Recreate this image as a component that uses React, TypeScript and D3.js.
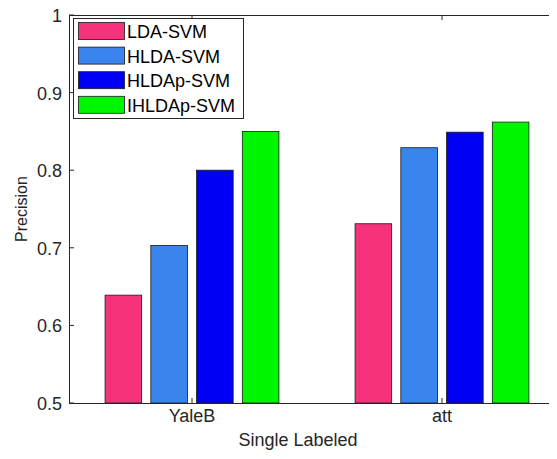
import React, { useEffect, useRef } from 'react';
import * as d3 from 'd3';

const categories = ['YaleB', 'att'];
const series = ['LDA-SVM', 'HLDA-SVM', 'HLDAp-SVM', 'IHLDAp-SVM'];
const colors = ['#f5327a', '#3a84ee', '#0000f5', '#00f500'];
// values[category][series]
const values = [
  [0.639, 0.703, 0.8, 0.85],
  [0.731, 0.829, 0.849, 0.862],
];
const yTicks = [0.5, 0.6, 0.7, 0.8, 0.9, 1];

export default function App() {
  const svgRef = useRef<SVGSVGElement>(null);

  useEffect(() => {
    const width = 557;
    const height = 459;
    const svg = d3.select(svgRef.current).attr('width', width).attr('height', height);
    svg.selectAll('*').remove();

    const left = 69;
    const top = 15;
    const bottom = 403;
    const font = 'Arial, "Liberation Sans", Helvetica, sans-serif';
    const axisColor = '#262626';

    // category 1 -> 192px, 2 -> 442px; the axes run past the right edge (cropped)
    const x = d3.scaleLinear().domain([1, 2]).range([192, 442]);
    const y = d3.scaleLinear().domain([0.5, 1]).range([bottom, top]);

    const step = 0.183;
    const barW = step * 0.8;

    const g = svg.append('g');
    categories.forEach((c, ci) => {
      series.forEach((s, si) => {
        const cx = ci + 1 + (si - 1.5) * step;
        g.append('rect')
          .attr('x', x(cx - barW / 2))
          .attr('y', y(values[ci][si]))
          .attr('width', x(cx + barW / 2) - x(cx - barW / 2))
          .attr('height', y(0.5) - y(values[ci][si]))
          .attr('fill', colors[si])
          .attr('stroke', '#1a1a1a')
          .attr('stroke-width', 0.8);
      });
    });

    // axes box
    svg.append('line').attr('x1', left).attr('x2', width).attr('y1', bottom + 0.5).attr('y2', bottom + 0.5)
      .attr('stroke', axisColor);
    svg.append('line').attr('x1', left).attr('x2', width).attr('y1', top + 0.5).attr('y2', top + 0.5)
      .attr('stroke', axisColor);
    svg.append('line').attr('x1', left + 0.5).attr('x2', left + 0.5).attr('y1', top).attr('y2', bottom + 1)
      .attr('stroke', axisColor);

    // y ticks
    yTicks.forEach(t => {
      svg.append('line').attr('x1', left).attr('x2', left + 5)
        .attr('y1', y(t)).attr('y2', y(t)).attr('stroke', axisColor);
      svg.append('text').attr('x', left - 7).attr('y', y(t) + 1)
        .attr('text-anchor', 'end').attr('dominant-baseline', 'central')
        .attr('font-family', font).attr('font-size', 18).attr('fill', axisColor)
        .text(String(t));
    });

    // x ticks
    categories.forEach((c, ci) => {
      const px = x(ci + 1);
      svg.append('line').attr('x1', px).attr('x2', px).attr('y1', bottom).attr('y2', bottom - 5)
        .attr('stroke', axisColor);
      svg.append('line').attr('x1', px).attr('x2', px).attr('y1', top).attr('y2', top + 5)
        .attr('stroke', axisColor);
      svg.append('text').attr('x', px).attr('y', bottom + 19)
        .attr('text-anchor', 'middle')
        .attr('font-family', font).attr('font-size', 18).attr('fill', axisColor)
        .text(c);
    });

    svg.append('text').attr('x', 298).attr('y', 446)
      .attr('text-anchor', 'middle')
      .attr('font-family', font).attr('font-size', 18).attr('fill', axisColor)
      .text('Single Labeled');

    svg.append('text')
      .attr('transform', `translate(27, 209) rotate(-90)`)
      .attr('text-anchor', 'middle')
      .attr('font-family', font).attr('font-size', 16).attr('fill', axisColor)
      .text('Precision');

    // legend
    const lg = svg.append('g');
    lg.append('rect').attr('x', 73.5).attr('y', 18.5).attr('width', 170).attr('height', 100)
      .attr('fill', '#fff').attr('stroke', axisColor);
    series.forEach((s, si) => {
      const cy = 31 + si * 24.6;
      lg.append('rect').attr('x', 78.5).attr('y', cy - 8.5).attr('width', 46).attr('height', 17)
        .attr('fill', colors[si]).attr('stroke', '#1a1a1a').attr('stroke-width', 0.8);
      lg.append('text').attr('x', 127).attr('y', cy + 1)
        .attr('dominant-baseline', 'central')
        .attr('font-family', font).attr('font-size', 18).attr('fill', '#000')
        .text(s);
    });
  }, []);

  return (
    <div style={{ margin: -8 }}>
      <svg ref={svgRef} style={{ display: 'block', background: '#fff' }}></svg>
    </div>
  );
}
